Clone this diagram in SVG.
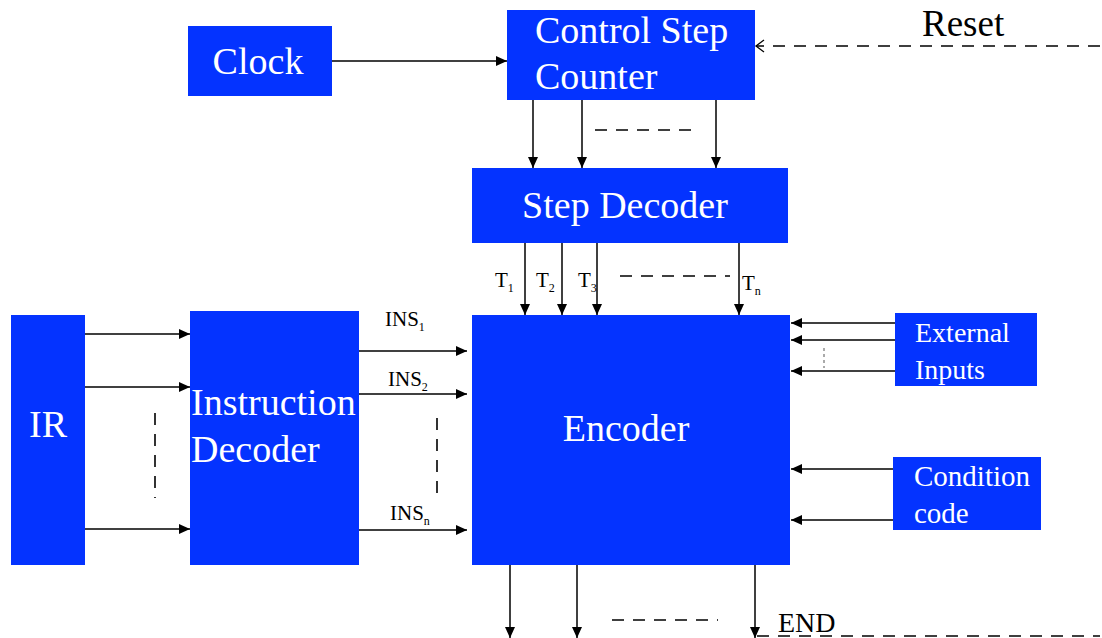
<svg xmlns="http://www.w3.org/2000/svg" width="1102" height="638" viewBox="0 0 1102 638">
<defs>
<marker id="ah" markerUnits="userSpaceOnUse" markerWidth="12" markerHeight="10" refX="11" refY="5" orient="auto">
<path d="M0,0 L11,5 L0,10 Z" fill="#000"/>
</marker>
<marker id="open" markerUnits="userSpaceOnUse" markerWidth="12" markerHeight="14" refX="9" refY="7" orient="auto">
<path d="M1,1 L9,7 L1,13" fill="none" stroke="#000" stroke-width="1.3"/>
</marker>
<style>
.box{fill:#0433ff}
.wt{fill:#ffffff;font-family:"Liberation Serif","Times New Roman",serif}
.bt{fill:#000;font-family:"Liberation Serif","Times New Roman",serif}
.ar{stroke:#000;stroke-width:1.5;fill:none;marker-end:url(#ah)}
.ds{stroke:#000;stroke-width:1.6;fill:none;stroke-dasharray:12,9}
</style>
</defs>
<rect width="1102" height="638" fill="#fff"/>

<g id="clock">
<rect class="box" x="188" y="26" width="144" height="70"/>
<text class="wt" x="258" y="74" font-size="38" text-anchor="middle">Clock</text>
</g>
<g id="csc">
<rect class="box" x="507" y="10" width="248" height="90"/>
<text class="wt" x="535" y="43" font-size="38">Control Step</text>
<text class="wt" x="535" y="89" font-size="38">Counter</text>
</g>
<g id="stepdec">
<rect class="box" x="472" y="168" width="316" height="75"/>
<text class="wt" x="625" y="218" font-size="38" text-anchor="middle">Step Decoder</text>
</g>
<g id="encoder">
<rect class="box" x="472" y="315" width="318" height="250"/>
<text class="wt" x="626" y="441" font-size="38" text-anchor="middle">Encoder</text>
</g>
<g id="ir">
<rect class="box" x="11" y="315" width="74" height="250"/>
<text class="wt" x="48" y="437" font-size="38" text-anchor="middle">IR</text>
</g>
<g id="insdec">
<rect class="box" x="190" y="311" width="169" height="254"/>
<text class="wt" x="191" y="415" font-size="38">Instruction</text>
<text class="wt" x="191" y="462" font-size="38">Decoder</text>
</g>
<g id="extin">
<rect class="box" x="895" y="313" width="142" height="73"/>
<text class="wt" x="915" y="342" font-size="28">External</text>
<text class="wt" x="915" y="379" font-size="28">Inputs</text>
</g>
<g id="cond">
<rect class="box" x="893" y="457" width="148" height="73"/>
<text class="wt" x="914" y="486" font-size="29">Condition</text>
<text class="wt" x="914" y="523" font-size="29">code</text>
</g>

<g id="labels">
<text class="bt" x="922" y="36" font-size="37">Reset</text>
<text class="bt" x="778" y="632" font-size="28">END</text>
<text class="bt" x="495" y="287" font-size="21">T<tspan font-size="12" dy="5">1</tspan></text>
<text class="bt" x="536" y="287" font-size="21">T<tspan font-size="12" dy="5">2</tspan></text>
<text class="bt" x="578" y="287" font-size="21">T<tspan font-size="12" dy="5">3</tspan></text>
<text class="bt" x="742" y="290" font-size="21">T<tspan font-size="12" dy="5">n</tspan></text>
<text class="bt" x="385" y="326" font-size="21">INS<tspan font-size="12" dy="5">1</tspan></text>
<text class="bt" x="388" y="386" font-size="21">INS<tspan font-size="12" dy="5">2</tspan></text>
<text class="bt" x="390" y="520" font-size="21">INS<tspan font-size="12" dy="5">n</tspan></text>
</g>

<g id="connectors">
<line class="ar" x1="332" y1="61" x2="507" y2="61"/>
<line class="ds" x1="1100" y1="46" x2="756" y2="46" marker-end="url(#open)"/>
<line class="ar" x1="533" y1="100" x2="533" y2="168"/>
<line class="ar" x1="582" y1="100" x2="582" y2="168"/>
<line class="ar" x1="716" y1="100" x2="716" y2="168"/>
<line class="ds" x1="595" y1="130" x2="700" y2="130"/>
<line class="ar" x1="525" y1="243" x2="525" y2="315"/>
<line class="ar" x1="562" y1="243" x2="562" y2="315"/>
<line class="ar" x1="597" y1="243" x2="597" y2="315"/>
<line class="ar" x1="739" y1="243" x2="739" y2="315"/>
<line class="ds" x1="620" y1="276" x2="730" y2="276"/>
<line class="ar" x1="85" y1="334" x2="190" y2="334"/>
<line class="ar" x1="85" y1="387" x2="190" y2="387"/>
<line class="ar" x1="85" y1="529" x2="190" y2="529"/>
<line class="ds" x1="155" y1="413" x2="155" y2="498"/>
<line class="ar" x1="359" y1="351" x2="467" y2="351"/>
<line class="ar" x1="359" y1="394" x2="467" y2="394"/>
<line class="ar" x1="359" y1="530" x2="467" y2="530"/>
<line class="ds" x1="437" y1="418" x2="437" y2="502"/>
<line class="ar" x1="895" y1="323" x2="791" y2="323"/>
<line class="ar" x1="895" y1="340" x2="791" y2="340"/>
<line class="ar" x1="895" y1="371" x2="791" y2="371"/>
<line x1="824" y1="348" x2="824" y2="368" stroke="#aaa" stroke-width="2" stroke-dasharray="3,3"/>
<line class="ar" x1="893" y1="469" x2="791" y2="469"/>
<line class="ar" x1="893" y1="520" x2="791" y2="520"/>
<line class="ar" x1="510" y1="565" x2="510" y2="638"/>
<line class="ar" x1="577" y1="565" x2="577" y2="638"/>
<line class="ar" x1="755" y1="565" x2="755" y2="638"/>
<line class="ds" x1="612" y1="620" x2="718" y2="620"/>
<line class="ds" x1="757" y1="636" x2="1100" y2="636" stroke-dasharray="9,6"/>
</g>
</svg>
